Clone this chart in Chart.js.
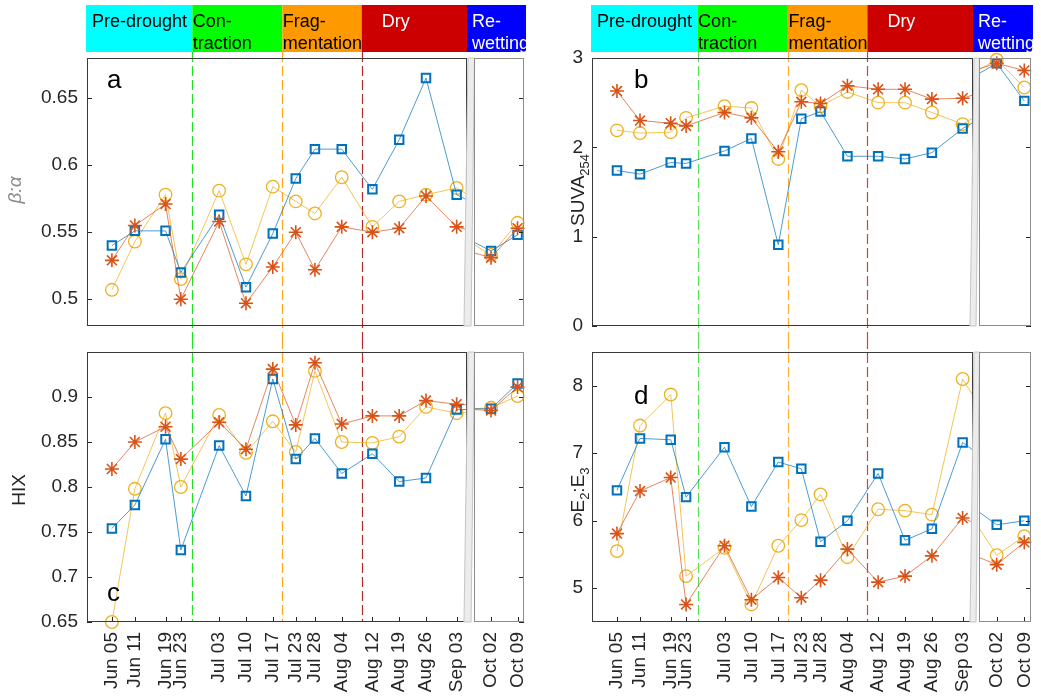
<!DOCTYPE html>
<html>
<head>
<meta charset="utf-8">
<title>Drought phases</title>
<script src="https://cdn.jsdelivr.net/npm/chart.js@4.4.1/dist/chart.umd.min.js"></script>
<style>
  body { margin: 0; width: 1041px; height: 696px; background: #fff; position: relative; overflow: hidden; }
  canvas { position: absolute; }
</style>
</head>
<body>
<script>
// sampling dates (day number counted from 1 June)
const dateLabels = ['Jun 05', 'Jun 11', 'Jun 19', 'Jun 23', 'Jul 03', 'Jul 10', 'Jul 17', 'Jul 23',
                    'Jul 28', 'Aug 04', 'Aug 12', 'Aug 19', 'Aug 26', 'Sep 03', 'Oct 02', 'Oct 09'];
const sampleDays = [5, 11, 19, 23, 33, 40, 47, 53, 58, 65, 73, 80, 87, 95, 124, 131];

// phases
const phaseNames = [['Pre-drought'], ['Con-', 'traction'], ['Frag-', 'mentation'], ['Dry'], ['Re-', 'wetting']];
const phaseStartDays = [26, 49.5, 70.2];

// a: beta:alpha
const betaAlphaTicks = [0.5, 0.55, 0.6, 0.65];
const betaAlphaSquare = [0.540, 0.551, 0.551, 0.520, 0.563, 0.509, 0.549, 0.590, 0.612, 0.612, 0.582, 0.619, 0.665, 0.578, 0.536, 0.548];
const betaAlphaStar   = [0.529, 0.555, 0.571, 0.500, 0.558, 0.497, 0.524, 0.550, 0.522, 0.554, 0.550, 0.553, 0.577, 0.554, 0.531, 0.553];
const betaAlphaCircle = [0.507, 0.543, 0.578, 0.515, 0.581, 0.526, 0.584, 0.573, 0.564, 0.591, 0.554, 0.573, 0.578, 0.583, 0.533, 0.557];

// b: SUVA254
const suvaTicks = [0, 1, 2, 3];
const suvaSquare = [1.74, 1.70, 1.83, 1.82, 1.96, 2.10, 0.91, 2.32, 2.40, 1.90, 1.90, 1.87, 1.94, 2.21, 2.94, 2.52];
const suvaStar   = [2.63, 2.30, 2.27, 2.24, 2.39, 2.33, 1.95, 2.51, 2.49, 2.69, 2.65, 2.65, 2.54, 2.55, 2.94, 2.86];
const suvaCircle = [2.19, 2.16, 2.17, 2.33, 2.46, 2.44, 1.87, 2.64, 2.46, 2.62, 2.50, 2.50, 2.39, 2.26, 2.98, 2.67];

// c: HIX
const hixTicks = [0.65, 0.7, 0.75, 0.8, 0.85, 0.9];
const hixSquare = [0.754, 0.780, 0.853, 0.730, 0.846, 0.790, 0.920, 0.831, 0.854, 0.815, 0.837, 0.806, 0.810, 0.886, 0.887, 0.915];
const hixStar   = [0.820, 0.850, 0.867, 0.831, 0.872, 0.842, 0.931, 0.869, 0.938, 0.870, 0.879, 0.879, 0.896, 0.892, 0.885, 0.911];
const hixCircle = [0.650, 0.798, 0.882, 0.800, 0.880, 0.838, 0.873, 0.839, 0.929, 0.850, 0.849, 0.856, 0.889, 0.882, 0.888, 0.901];

// d: E2:E3
const e2e3Ticks = [5, 6, 7, 8];
const e2e3Square = [6.45, 7.22, 7.20, 6.35, 7.09, 6.21, 6.87, 6.77, 5.69, 6.00, 6.70, 5.71, 5.88, 7.16, 5.94, 6.00];
const e2e3Star   = [5.81, 6.44, 6.64, 4.76, 5.63, 4.83, 5.16, 4.86, 5.12, 5.58, 5.09, 5.18, 5.48, 6.04, 5.35, 5.68];
const e2e3Circle = [5.55, 7.41, 7.87, 5.18, 5.60, 4.76, 5.63, 6.01, 6.39, 5.46, 6.17, 6.15, 6.09, 8.10, 5.49, 5.77];

const FONT = '"Liberation Sans", Arial, Helvetica, sans-serif';
const phaseFill = ['#00ffff', '#00ff00', '#ff9900', '#cc0000', '#0000ff'];
const phaseInk = ['#000', '#000', '#000', '#fff', '#fff'];
const phaseTextOffset = [6, 0.5, 0.5, 20, 5];

// canvases overlap a little so that Chart.js label padding never squeezes the plot areas
const panelSpecs = [
  { box: { x: 0, y: 0, w: 560, h: 350 }, mainL: 87, mainR: 467, brkL: 474, brkR: 524, top: 58, bottom: 326,
    yMin: 0.48, yMax: 0.68, yTicks: betaAlphaTicks, series: [betaAlphaSquare, betaAlphaStar, betaAlphaCircle],
    dates: false, bar: true, lineFrom: 52, lineTo: 339,
    lineColors: ['#22e022', '#ffa31a', '#b52b2b'],
    letter: { t: 'a', x: 107, y: 88 },
    title: { parts: [{ t: 'β:α' }], x: 16, y: 190, italic: true, color: '#8c8c8c' } },
  { box: { x: 540, y: 0, w: 521, h: 350 }, mainL: 592, mainR: 973, brkL: 979, brkR: 1031, top: 58, bottom: 326,
    yMin: 0, yMax: 3, yTicks: suvaTicks, series: [suvaSquare, suvaStar, suvaCircle],
    dates: false, bar: true, lineFrom: 52, lineTo: 339,
    lineColors: ['#55e055', '#ffb030', '#dd3b3b'],
    letter: { t: 'b', x: 634, y: 88 },
    title: { parts: [{ t: 'SUVA' }, { t: '254', sub: true }], x: 579, y: 190 } },
  { box: { x: 0, y: 326, w: 560, h: 370 }, mainL: 87, mainR: 467, brkL: 474, brkR: 524, top: 352, bottom: 622,
    yMin: 0.65, yMax: 0.95, yTicks: hixTicks, series: [hixSquare, hixStar, hixCircle],
    dates: true, bar: false, lineFrom: 339, lineTo: 622,
    lineColors: ['#22e022', '#ffa31a', '#b52b2b'],
    letter: { t: 'c', x: 107, y: 601 },
    title: { parts: [{ t: 'HIX' }], x: 20, y: 490 } },
  { box: { x: 540, y: 326, w: 521, h: 370 }, mainL: 592, mainR: 973, brkL: 979, brkR: 1031, top: 352, bottom: 622,
    yMin: 4.5, yMax: 8.5, yTicks: e2e3Ticks, series: [e2e3Square, e2e3Star, e2e3Circle],
    dates: true, bar: false, lineFrom: 339, lineTo: 622,
    lineColors: ['#55e055', '#ffb030', '#dd3b3b'],
    letter: { t: 'd', x: 634, y: 404 },
    title: { parts: [{ t: 'E' }, { t: '2', sub: true }, { t: ':E' }, { t: '3', sub: true }], x: 579, y: 490 } }
];

function drawTitle(ctx, t, ox, oy) {
  ctx.save();
  ctx.translate(t.x - ox, t.y - oy);
  ctx.rotate(-Math.PI / 2);
  ctx.fillStyle = t.color || '#262626';
  ctx.textBaseline = 'middle';
  const big = (t.italic ? 'italic ' : '') + '19px ' + FONT;
  const small = '13px ' + FONT;
  let total = 0;
  t.parts.forEach(p => { ctx.font = p.sub ? small : big; total += ctx.measureText(p.t).width; });
  let cx = -total / 2;
  t.parts.forEach(p => {
    ctx.font = p.sub ? small : big;
    ctx.fillText(p.t, cx, p.sub ? 6 : 0);
    cx += ctx.measureText(p.t).width;
  });
  ctx.restore();
}

// inward tick marks and the axes box
const axesBox = {
  id: 'axesBox',
  afterDatasetsDraw(chart, args, o) {
    const { ctx, chartArea: a, scales: { x, y } } = chart;
    ctx.save();
    ctx.strokeStyle = '#262626';
    ctx.lineWidth = 1;
    ctx.beginPath();
    o.yTicks.forEach(v => {
      const py = Math.round(y.getPixelForValue(v)) + 0.5;
      if (o.side === 'left') { ctx.moveTo(a.left, py); ctx.lineTo(a.left + 5, py); }
      else { ctx.moveTo(a.right, py); ctx.lineTo(a.right - 5, py); }
    });
    if (o.xTicks) {
      x.ticks.forEach(t => {
        const px = Math.round(x.getPixelForValue(t.value)) + 0.5;
        ctx.moveTo(px, a.bottom); ctx.lineTo(px, a.bottom - 5);
      });
    }
    ctx.stroke();
    ctx.strokeStyle = o.frame;
    ctx.strokeRect(Math.round(a.left) + 0.5, Math.round(a.top) + 0.5, Math.round(a.width) - 1, Math.round(a.height) - 1);
    ctx.restore();
  }
};

// phase lines, phase bar, axis break band, panel letter and y title
const panelDecor = {
  id: 'panelDecor',
  beforeDatasetsDraw(chart, args, o) {
    const { ctx, scales: { x } } = chart;
    ctx.save();
    ctx.lineWidth = 1.2;
    ctx.setLineDash([10, 4]);
    phaseStartDays.forEach((d, i) => {
      const px = Math.round(x.getPixelForValue(d)) + 0.5;
      ctx.strokeStyle = o.spec.lineColors[i];
      ctx.beginPath();
      ctx.moveTo(px, o.spec.lineFrom - o.spec.box.y);
      ctx.lineTo(px, o.spec.lineTo - o.spec.box.y);
      ctx.stroke();
    });
    ctx.restore();
  },
  afterDraw(chart, args, o) {
    const { ctx, chartArea: a, scales: { x } } = chart;
    const s = o.spec;
    const L = s.brkL - s.box.x;
    ctx.save();
    // break band
    ctx.fillStyle = '#ececec';
    ctx.strokeStyle = '#c4c4c4';
    ctx.lineWidth = 1;
    ctx.beginPath();
    ctx.moveTo(a.right + 1, a.top);
    ctx.lineTo(L + 0.5, a.top);
    ctx.lineTo(L - 3, a.bottom);
    ctx.lineTo(a.right - 3, a.bottom);
    ctx.closePath();
    ctx.fill();
    ctx.stroke();

    if (s.bar) {
      const edges = [a.left - 1, ...phaseStartDays.map(d => x.getPixelForValue(d)), a.right, s.brkR - s.box.x + 2];
      phaseNames.forEach((lines, i) => {
        const x0 = edges[i], w = edges[i + 1] - edges[i];
        ctx.fillStyle = phaseFill[i];
        ctx.fillRect(x0, 5, w, 47);
        ctx.save();
        ctx.beginPath();
        ctx.rect(x0, 5, w + (i < 2 ? 6 : i < 4 ? 3 : 0), 47);
        ctx.clip();
        ctx.fillStyle = phaseInk[i];
        ctx.font = '18px ' + FONT;
        ctx.textBaseline = 'middle';
        lines.forEach((t, k) => ctx.fillText(t, x0 + phaseTextOffset[i], 22 + k * 22));
        ctx.restore();
      });
    }

    ctx.fillStyle = '#000';
    ctx.font = '26px ' + FONT;
    ctx.textBaseline = 'alphabetic';
    ctx.fillText(s.letter.t, s.letter.x - s.box.x, s.letter.y - s.box.y);
    drawTitle(ctx, s.title, s.box.x, s.box.y);
    ctx.restore();
  }
};

function addCanvas(box) {
  const c = document.createElement('canvas');
  c.width = box.w;
  c.height = box.h;
  c.style.left = box.x + 'px';
  c.style.top = box.y + 'px';
  document.body.appendChild(c);
  return c;
}

function buildDatasets(values, clip) {
  const pts = arr => arr.map((v, i) => ({ x: sampleDays[i], y: v }));
  const [sq, st, ci] = values;
  return [
    { label: 'star', data: pts(st), borderColor: 'rgba(217,83,25,0.7)', pointBorderColor: '#D95319',
      pointStyle: 'star', pointRadius: 7, pointBorderWidth: 1.6, order: 0 },
    { label: 'square', data: pts(sq), borderColor: 'rgba(0,114,189,0.7)', pointBorderColor: '#0072BD',
      pointStyle: 'rect', pointRadius: 6, pointBorderWidth: 2, order: 1 },
    { label: 'circle', data: pts(ci), borderColor: 'rgba(237,177,32,0.75)', pointBorderColor: '#EDB120',
      pointStyle: 'circle', pointRadius: 6.3, pointBorderWidth: 1.3, order: 2 }
  ].map(d => Object.assign(d, {
    borderWidth: 1, pointBackgroundColor: 'rgba(0,0,0,0)', clip, tension: 0, fill: false
  }));
}

// the x axis keeps its height even when hidden, so it fills the space below the plot
function xScale(s, min, max) {
  const box = s.box;
  return {
    type: 'linear', min, max, display: s.dates,
    afterBuildTicks: sc => { sc.ticks = sampleDays.filter(d => d >= min && d <= max).map(v => ({ value: v })); },
    afterFit: sc => { sc.height = box.y + box.h - s.bottom; },
    grid: { display: false, drawTicks: false },
    border: { display: false },
    ticks: {
      autoSkip: false, minRotation: 90, maxRotation: 90, padding: 10, color: '#262626',
      font: { family: FONT, size: 19 },
      callback: v => dateLabels[sampleDays.indexOf(v)]
    }
  };
}

function makePanel(s) {
  const box = s.box;
  const top = s.top - box.y;
  const common = {
    responsive: false, animation: false, devicePixelRatio: 1, events: [],
    plugins: { legend: { display: false }, tooltip: { enabled: false } }
  };

  new Chart(addCanvas(box), {
    type: 'line',
    data: { datasets: buildDatasets(s.series, { left: 10, top: 10, right: 0, bottom: 10 }) },
    options: Object.assign({}, common, {
      layout: { padding: { left: 0, right: box.x + box.w - s.mainR, top, bottom: 0 } },
      scales: {
        x: xScale(s, -1.5, 97.7),
        y: {
          type: 'linear', min: s.yMin, max: s.yMax,
          afterBuildTicks: sc => { sc.ticks = s.yTicks.map(v => ({ value: v })); },
          afterFit: sc => { sc.width = s.mainL - box.x; },
          grid: { display: false, drawTicks: false },
          border: { display: false },
          ticks: { callback: v => String(v), color: '#262626', font: { family: FONT, size: 19 }, padding: 9 }
        }
      },
      plugins: Object.assign({}, common.plugins, {
        axesBox: { yTicks: s.yTicks, side: 'left', xTicks: s.dates, frame: '#3a3a3a' },
        panelDecor: { spec: s }
      })
    }),
    plugins: [axesBox, panelDecor]
  });

  new Chart(addCanvas(box), {
    type: 'line',
    data: { datasets: buildDatasets(s.series, { left: 0, top: 10, right: 10, bottom: 10 }) },
    options: Object.assign({}, common, {
      layout: { padding: { left: s.brkL - box.x, right: box.x + box.w - s.brkR, top, bottom: 0 } },
      scales: {
        x: xScale(s, 119.5, 132.7),
        y: { type: 'linear', min: s.yMin, max: s.yMax, display: false }
      },
      plugins: Object.assign({}, common.plugins, {
        axesBox: { yTicks: s.yTicks, side: 'right', xTicks: s.dates, frame: '#8c8c8c' }
      })
    }),
    plugins: [axesBox]
  });
}

panelSpecs.forEach(makePanel);
</script>
</body>
</html>
